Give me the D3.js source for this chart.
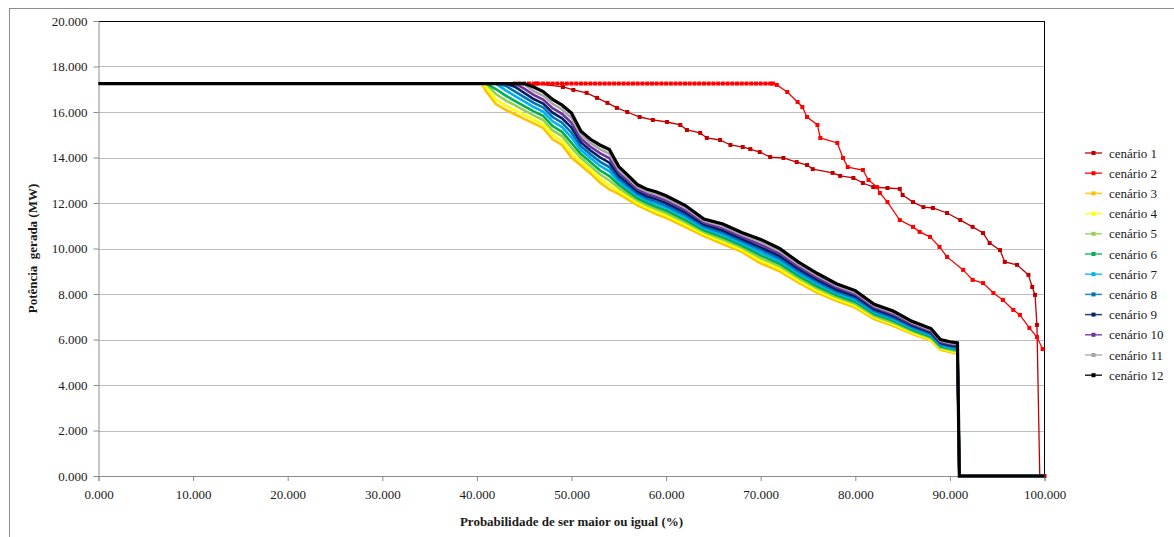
<!DOCTYPE html>
<html><head><meta charset="utf-8">
<script src="https://cdn.jsdelivr.net/npm/d3@7"></script>
<style>
html,body{margin:0;padding:0;background:#fff;}
svg{display:block;}
svg text{font-family:'Liberation Serif','Times New Roman',serif !important;}
</style></head>
<body><svg id="c" width="1174" height="537"></svg>
<script>
// ---- data ----
const xTicks = [0, 10, 20, 30, 40, 50, 60, 70, 80, 90, 100];
const yTicks = [0, 2, 4, 6, 8, 10, 12, 14, 16, 18, 20];
const xTitle = "Probabilidade de ser maior ou igual (%)";
const yTitle = "Potência  gerada (MW)";
const seriesNames = ["cenário 1","cenário 2","cenário 3","cenário 4","cenário 5","cenário 6","cenário 7","cenário 8","cenário 9","cenário 10","cenário 11","cenário 12"];
const seriesColors = ["#C00000","#FF0000","#FFC000","#FFFF00","#92D050","#00B050","#00B0F0","#0070C0","#002060","#7030A0","#A6A6A6","#000000"];

// cenário 1 (probability %, MW)
const probC1 = [0,46.3,49.1,50.2,51.6,52.7,53.8,54.8,55.9,57.2,58.6,60.1,61.5,62.2,63.6,64.3,65.7,66.8,68.1,68.9,69.9,71.0,72.4,73.8,74.9,75.5,77.6,78.4,79.8,80.8,81.9,83.4,84.7,85.0,86.1,87.2,88.2,89.7,91.1,92.4,93.5,94.2,95.3,95.8,97.1,98.3,98.7,99.0,99.2,99.5,100];
const cenario1 = [17.25,17.25,17.10,16.97,16.84,16.62,16.40,16.18,16.00,15.78,15.65,15.56,15.43,15.21,15.08,14.86,14.77,14.55,14.46,14.37,14.24,14.02,13.98,13.80,13.67,13.49,13.32,13.19,13.10,12.88,12.70,12.66,12.62,12.35,12.04,11.82,11.78,11.56,11.25,10.95,10.68,10.24,9.93,9.41,9.28,8.84,8.31,7.96,6.64,0,0];

// cenário 2
const probC2 = [0,44,44.5,45,45.5,46,46.5,47,47.5,48,48.5,49,49.5,50,50.5,51,51.5,52,52.5,53,53.5,54,54.5,55,55.5,56,56.5,57,57.5,58,58.5,59,59.5,60,60.5,61,61.5,62,62.5,63,63.5,64,64.5,65,65.5,66,66.5,67,67.5,68,68.5,69,69.5,70,70.5,71,71.3,71.7,72.8,73.9,74.4,74.9,76.0,76.3,78.1,78.7,79.2,80.8,81.4,82.3,82.6,83.4,84.7,86.1,86.8,87.9,88.9,89.7,91.4,92.4,93.5,94.6,95.6,96.7,97.4,98.4,99.2,99.8];
const cenario2 = [17.25,17.25,17.25,17.25,17.25,17.25,17.25,17.25,17.25,17.25,17.25,17.25,17.25,17.25,17.25,17.25,17.25,17.25,17.25,17.25,17.25,17.25,17.25,17.25,17.25,17.25,17.25,17.25,17.25,17.25,17.25,17.25,17.25,17.25,17.25,17.25,17.25,17.25,17.25,17.25,17.25,17.25,17.25,17.25,17.25,17.25,17.25,17.25,17.25,17.25,17.25,17.25,17.25,17.25,17.25,17.25,17.25,17.19,16.88,16.44,16.22,15.78,15.43,14.86,14.64,13.98,13.58,13.45,13.01,12.70,12.44,12.04,11.25,10.95,10.73,10.51,10.07,9.63,9.06,8.62,8.48,8.04,7.74,7.30,7.08,6.51,6.11,5.58];

// cenários 3-12 share the probability axis
const probGrid = [0,40.5,41,42,43,44,45,46,47,48,49,50,51,52,53,54,55,56,57,58,59,60,62,64,66,68,70,72,74,76,78,80,82,84,86,88,89,90,90.8,91,100];
const cenario3  = [17.25,17.25,16.90,16.35,16.10,15.90,15.70,15.50,15.30,14.80,14.55,14.00,13.65,13.30,12.90,12.60,12.40,12.15,11.90,11.70,11.50,11.35,10.95,10.55,10.20,9.85,9.35,9.00,8.50,8.05,7.70,7.40,6.90,6.60,6.25,5.95,5.55,5.45,5.38,0,0];
const cenario4  = [17.25,17.25,17.08,16.55,16.29,16.08,15.87,15.66,15.46,14.98,14.73,14.20,13.80,13.45,13.07,12.78,12.52,12.26,11.99,11.79,11.60,11.45,11.05,10.63,10.29,9.94,9.46,9.10,8.59,8.14,7.78,7.48,6.97,6.67,6.31,6.00,5.60,5.50,5.43,0,0];
const cenario5  = [17.25,17.25,17.25,16.79,16.52,16.30,16.07,15.85,15.65,15.19,14.94,14.43,13.98,13.63,13.26,12.99,12.66,12.38,12.10,11.90,11.72,11.56,11.16,10.72,10.39,10.04,9.58,9.22,8.70,8.24,7.87,7.57,7.04,6.74,6.37,6.07,5.65,5.55,5.48,0,0];
const cenario6  = [17.25,17.25,17.25,17.01,16.73,16.49,16.26,16.03,15.83,15.38,15.13,14.64,14.15,13.80,13.44,13.18,12.80,12.50,12.20,12.00,11.82,11.67,11.26,10.80,10.49,10.13,9.70,9.33,8.80,8.33,7.95,7.65,7.12,6.82,6.43,6.12,5.70,5.60,5.54,0,0];
const cenario7  = [17.25,17.25,17.25,17.25,16.96,16.71,16.47,16.22,16.02,15.59,15.34,14.88,14.33,13.98,13.64,13.39,12.94,12.62,12.31,12.11,11.94,11.79,11.38,10.89,10.60,10.23,9.82,9.45,8.91,8.43,8.04,7.74,7.19,6.89,6.50,6.19,5.75,5.65,5.59,0,0];
const cenario8  = [17.25,17.25,17.25,17.25,17.16,16.91,16.65,16.40,16.20,15.78,15.53,15.09,14.49,14.14,13.82,13.58,13.07,12.74,12.40,12.20,12.05,11.89,11.48,10.97,10.69,10.33,9.94,9.56,9.00,8.53,8.12,7.82,7.26,6.96,6.56,6.25,5.80,5.70,5.64,0,0];
const cenario9  = [17.25,17.25,17.25,17.25,17.25,17.11,16.84,16.57,16.37,15.97,15.72,15.31,14.66,14.31,14.01,13.77,13.20,12.85,12.50,12.30,12.16,12.00,11.59,11.05,10.79,10.42,10.05,9.67,9.10,8.62,8.20,7.90,7.34,7.04,6.62,6.31,5.85,5.75,5.70,0,0];
const cenario10 = [17.25,17.25,17.25,17.25,17.25,17.25,17.03,16.75,16.55,16.17,15.92,15.52,14.82,14.47,14.19,13.97,13.34,12.97,12.60,12.40,12.26,12.11,11.69,11.14,10.89,10.51,10.17,9.78,9.20,8.71,8.29,7.99,7.41,7.11,6.68,6.36,5.90,5.80,5.75,0,0];
const cenario11 = [17.25,17.25,17.25,17.25,17.25,17.25,17.21,16.92,16.72,16.36,16.11,15.74,14.99,14.64,14.37,14.16,13.47,13.09,12.70,12.50,12.37,12.21,11.80,11.22,10.98,10.61,10.29,9.89,9.30,8.81,8.37,8.07,7.48,7.18,6.74,6.42,5.95,5.85,5.80,0,0];
const cenario12 = [17.25,17.25,17.25,17.25,17.25,17.25,17.25,17.10,16.90,16.55,16.30,15.95,15.15,14.80,14.55,14.35,13.60,13.20,12.80,12.60,12.48,12.32,11.90,11.30,11.08,10.70,10.40,10.00,9.40,8.90,8.45,8.15,7.55,7.25,6.80,6.48,6.00,5.90,5.85,0,0];

// ---- build ----
const FONT = "'Liberation Serif', 'Times New Roman', serif";
const svg = d3.select("#c");
const L = 98.5, R = 1044.5, T = 21, B = 476;
const x = d3.scaleLinear().domain([0,100]).range([L,R]);
const y = d3.scaleLinear().domain([0,20]).range([B,T]);
const fmt = d3.format(".3f");

// outer frame
svg.append("rect").attr("x",9.5).attr("y",8.5).attr("width",1175).attr("height",540)
  .attr("fill","none").attr("stroke","#8c8c8c").attr("stroke-width",1);

// gridlines
svg.append("g").selectAll("line").data(yTicks.filter(v=>v>0 && v<20)).join("line")
  .attr("x1",L).attr("x2",R).attr("y1",d=>Math.round(y(d))+0.5).attr("y2",d=>Math.round(y(d))+0.5)
  .attr("stroke","#7a7a7a").attr("stroke-width",1).attr("stroke-dasharray","1,1");

// plot border top/right
svg.append("line").attr("x1",L).attr("x2",R).attr("y1",T+0.5).attr("y2",T+0.5).attr("stroke","#000");
svg.append("line").attr("x1",R).attr("x2",R).attr("y1",T).attr("y2",B).attr("stroke","#000");

// axes
const gy = svg.append("g").attr("transform",`translate(${L},0)`)
  .call(d3.axisLeft(y).tickValues(yTicks).tickFormat(fmt).tickSize(5).tickPadding(6));
const gx = svg.append("g").attr("transform",`translate(0,${B})`)
  .call(d3.axisBottom(x).tickValues(xTicks).tickFormat(fmt).tickSize(5).tickPadding(9));
[gx,gy].forEach(g=>{
  g.attr("font-family",FONT).attr("font-size",13);
  g.selectAll("path,line").attr("stroke","#8c8c8c");
  g.selectAll("text").attr("font-family",FONT).attr("font-size",13).attr("fill","#1a1a1a");
});

// series
const seriesData = [
  probC1.map((p,i)=>[p,cenario1[i]]),
  probC2.map((p,i)=>[p,cenario2[i]]),
  ...[cenario3,cenario4,cenario5,cenario6,cenario7,cenario8,cenario9,cenario10,cenario11,cenario12]
     .map(arr=>probGrid.map((p,i)=>[p,arr[i]]))
];
const line = d3.line().x(d=>x(d[0])).y(d=>y(d[1]));
const plot = svg.append("g");
seriesData.forEach((data,si)=>{
  const col = seriesColors[si];
  const isRed = si < 2;
  plot.append("path").datum(data).attr("d",line).attr("fill","none")
    .attr("stroke",col).attr("stroke-width",isRed?1.3:(si===11?3.2:2.6))
    .attr("stroke-linejoin","miter");
  if (isRed) {
    plot.append("g").selectAll("rect").data(data.filter(d=>d[0]>0)).join("rect")
      .attr("x",d=>x(d[0])-2).attr("y",d=>y(d[1])-2).attr("width",4).attr("height",4)
      .attr("fill",col);
  }
});

// legend
const lg = svg.append("g");
seriesNames.forEach((n,i)=>{
  const yy = 153 + i*20.2;
  lg.append("line").attr("x1",1085).attr("x2",1102).attr("y1",yy).attr("y2",yy)
    .attr("stroke",seriesColors[i]).attr("stroke-width",1.5).attr("opacity",0.85);
  lg.append("rect").attr("x",1091.5).attr("y",yy-2).attr("width",4).attr("height",4).attr("fill",seriesColors[i]);
  lg.append("text").attr("x",1109).attr("y",yy+4.5).attr("font-family",FONT).attr("font-size",13).attr("fill","#1a1a1a").text(n);
});

// titles
svg.append("text").attr("x",(L+R)/2).attr("y",526).attr("text-anchor","middle").attr("font-family",FONT)
  .attr("font-weight","bold").attr("font-size",13).attr("fill","#1a1a1a").text(xTitle);
svg.append("text").attr("transform",`translate(37,${(T+B)/2}) rotate(-90)`).attr("text-anchor","middle")
  .attr("font-family",FONT).attr("font-weight","bold").attr("font-size",13).attr("fill","#1a1a1a")
  .style("white-space","pre").text(yTitle);
</script>
</body></html>
